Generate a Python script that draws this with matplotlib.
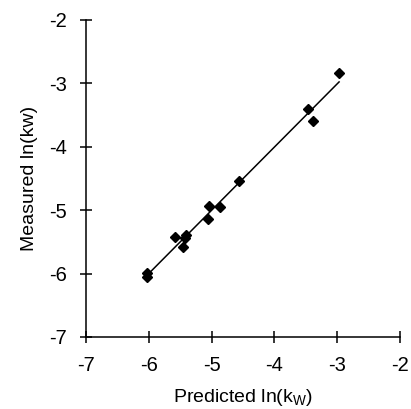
import numpy as np
import matplotlib
matplotlib.use("Agg")
import matplotlib.pyplot as plt

plt.rcParams['font.family'] = ['Liberation Sans', 'DejaVu Sans']
plt.rcParams['mathtext.fontset'] = 'custom'
plt.rcParams['mathtext.rm'] = 'Liberation Sans'
plt.rcParams['axes.unicode_minus'] = False

predicted = [-6.03, -6.03, -5.58, -5.41, -5.42, -5.45, -5.06, -5.04, -4.86, -4.56, -3.47, -3.38, -2.97]
measured = [-5.99, -6.05, -5.43, -5.39, -5.44, -5.58, -5.14, -4.93, -4.95, -4.54, -3.41, -3.59, -2.84]
ticks = [-7, -6, -5, -4, -3, -2]

x = np.array(predicted)
y = np.array(measured)
coef = np.polyfit(x, y, 1)
xf = np.array([x.min(), x.max()])

fig = plt.figure(figsize=(4.11, 4.09), dpi=100)
ax = fig.add_axes([86/411, 1-337/409, (400-86)/411, (337-20)/409])
ax.plot(xf, np.polyval(coef, xf), color='black', lw=1.1)
ax.plot(x, y, 'D', color='black', ms=5.5, mec='black')
ax.set_xlim(-7, -2)
ax.set_ylim(-7, -2)
ax.set_xticks(ticks)
ax.set_yticks(ticks)
for s in ['top', 'right']:
    ax.spines[s].set_visible(False)
for s in ['left', 'bottom']:
    ax.spines[s].set_linewidth(1.1)
ax.tick_params(direction='inout', length=8, width=1.1, labelsize=14.5)
ax.tick_params(axis='x', pad=10)
ax.tick_params(axis='y', pad=10)
ax.set_xlabel(r'Predicted ln(k$_\mathregular{W}$)', fontsize=14, labelpad=8)
ax.set_ylabel('Measured ln(kw)', fontsize=14, labelpad=8)
fig.savefig('out.png', dpi=100)
